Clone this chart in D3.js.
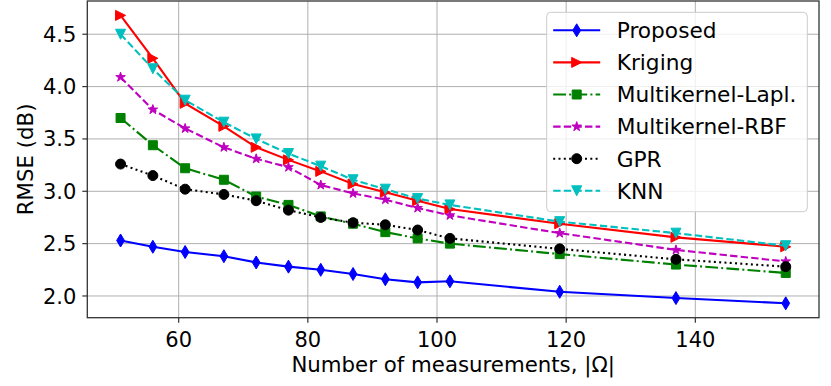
<!DOCTYPE html>
<html>
<head>
<meta charset="utf-8">
<script src="https://cdn.jsdelivr.net/npm/d3@7"></script>
<style>
body { margin: 0; background: #fff; }
text { font-family: "DejaVu Sans", sans-serif; fill: #000; }
</style>
</head>
<body>
<div id="chart"></div>
<script>
// data
var xVals = [51, 56, 61, 67, 72, 77, 82, 87, 92, 97, 102, 119, 137, 154];
var proposed = [2.53, 2.47, 2.42, 2.38, 2.32, 2.28, 2.25, 2.21, 2.16, 2.13, 2.14, 2.04, 1.98, 1.93];
var kriging  = [4.68, 4.27, 3.84, 3.62, 3.42, 3.30, 3.19, 3.07, 2.99, 2.91, 2.83, 2.69, 2.56, 2.47];
var mkLapl   = [3.70, 3.44, 3.22, 3.11, 2.95, 2.87, 2.76, 2.69, 2.61, 2.55, 2.50, 2.40, 2.30, 2.22];
var mkRbf    = [4.09, 3.78, 3.60, 3.42, 3.31, 3.23, 3.06, 2.98, 2.92, 2.84, 2.77, 2.60, 2.44, 2.33];
var gpr      = [3.26, 3.15, 3.02, 2.97, 2.91, 2.82, 2.75, 2.70, 2.68, 2.63, 2.55, 2.45, 2.35, 2.28];
var knn      = [4.50, 4.17, 3.87, 3.66, 3.50, 3.36, 3.24, 3.11, 3.02, 2.93, 2.87, 2.71, 2.60, 2.48];

var seriesNames = ["Proposed", "Kriging", "Multikernel-Lapl.", "Multikernel-RBF", "GPR", "KNN"];
var seriesValues = [proposed, kriging, mkLapl, mkRbf, gpr, knn];
var xTicks = [60, 80, 100, 120, 140];
var yTicks = [2.0, 2.5, 3.0, 3.5, 4.0, 4.5];

// styles for each series (matplotlib-ish)
var colors = ["#0000ff", "#ff0000", "#008000", "#bf00bf", "#000000", "#00bfbf"];
var dashes = [null, null, "12.8,3.2,2,3.2", "7.4,3.2", "2,3.3", "7.4,3.2"];
var markers = ["thin_diamond", "tri_right", "square", "star", "circle", "tri_down"];
var ms = 10;

var totalW = 831, totalH = 386;
var margin = {top: 1, right: 12, bottom: 68.3, left: 87.3},
  width = totalW - margin.left - margin.right,
  height = totalH - margin.top - margin.bottom;

var svg = d3.select("#chart")
  .append("svg")
  .attr("width", totalW)
  .attr("height", totalH)
  .append("g")
  .attr("transform", "translate(" + margin.left + "," + margin.top + ")");

// 5% padding like matplotlib autoscale
var xExt = d3.extent(xVals);
var xPad = (xExt[1] - xExt[0]) * 0.05;
var allY = d3.merge(seriesValues);
var yExt = d3.extent(allY);
var yPad = (yExt[1] - yExt[0]) * 0.05;

var x = d3.scaleLinear().domain([xExt[0] - xPad, xExt[1] + xPad]).range([0, width]);
var y = d3.scaleLinear().domain([yExt[0] - yPad, yExt[1] + yPad]).range([height, 0]);

// grid
svg.append("g").selectAll("line").data(xTicks).enter().append("line")
  .attr("x1", function(d) { return x(d); }).attr("x2", function(d) { return x(d); })
  .attr("y1", 0).attr("y2", height)
  .style("stroke", "#b0b0b0").style("stroke-width", 1);
svg.append("g").selectAll("line").data(yTicks).enter().append("line")
  .attr("y1", function(d) { return y(d); }).attr("y2", function(d) { return y(d); })
  .attr("x1", 0).attr("x2", width)
  .style("stroke", "#b0b0b0").style("stroke-width", 1);

// marker shapes
function markerPath(type, s) {
  var r = s / 2;
  if (type == "thin_diamond") {
    var h = s * 0.65, w = h * 0.6;
    return "M0," + (-h) + "L" + w + ",0L0," + h + "L" + (-w) + ",0Z";
  }
  if (type == "tri_right") return "M" + r + ",0L" + (-r) + "," + (-r) + "L" + (-r) + "," + r + "Z";
  if (type == "tri_down") return "M0," + r + "L" + (-r) + "," + (-r) + "L" + r + "," + (-r) + "Z";
  if (type == "square") { var q = r * 0.9; return "M" + (-q) + "," + (-q) + "h" + (2 * q) + "v" + (2 * q) + "h" + (-2 * q) + "Z"; }
  if (type == "circle") return "M" + r + ",0A" + r + "," + r + " 0 1,1 " + (-r) + ",0A" + r + "," + r + " 0 1,1 " + r + ",0Z";
  if (type == "star") {
    var pts = [], ri = r * 0.381966;
    for (var k = 0; k < 10; k++) {
      var rr = k % 2 == 0 ? r : ri;
      var a = -Math.PI / 2 + k * Math.PI / 5;
      pts.push([rr * Math.cos(a), rr * Math.sin(a)]);
    }
    return "M" + pts.map(function(p) { return p[0].toFixed(2) + "," + p[1].toFixed(2); }).join("L") + "Z";
  }
}

var line = d3.line()
  .x(function(d) { return x(d[0]); })
  .y(function(d) { return y(d[1]); });

// draw series
seriesValues.forEach(function(vals, i) {
  var pts = xVals.map(function(xv, j) { return [xv, vals[j]]; });
  var g = svg.append("g");
  g.append("path")
    .attr("d", line(pts))
    .style("fill", "none")
    .style("stroke", colors[i])
    .style("stroke-width", 2.1)
    .style("stroke-dasharray", dashes[i]);
  g.selectAll(".m").data(pts).enter().append("path")
    .attr("transform", function(d) { return "translate(" + x(d[0]) + "," + y(d[1]) + ")"; })
    .attr("d", markerPath(markers[i], ms))
    .style("fill", colors[i])
    .style("stroke", colors[i])
    .style("stroke-width", 1);
});

// spines
svg.append("rect")
  .attr("x", 0).attr("y", 0).attr("width", width).attr("height", height)
  .style("fill", "none").style("stroke", "#333").style("stroke-width", 1.3);

// ticks
svg.append("g").selectAll("line").data(xTicks).enter().append("line")
  .attr("x1", function(d) { return x(d); }).attr("x2", function(d) { return x(d); })
  .attr("y1", height).attr("y2", height + 5)
  .style("stroke", "#333").style("stroke-width", 1.2);
svg.append("g").selectAll("text").data(xTicks).enter().append("text")
  .attr("x", function(d) { return x(d); })
  .attr("y", height + 29)
  .attr("text-anchor", "middle")
  .style("font-size", "21px")
  .text(function(d) { return d; });

svg.append("g").selectAll("line").data(yTicks).enter().append("line")
  .attr("y1", function(d) { return y(d); }).attr("y2", function(d) { return y(d); })
  .attr("x1", -5).attr("x2", 0)
  .style("stroke", "#333").style("stroke-width", 1.2);
svg.append("g").selectAll("text").data(yTicks).enter().append("text")
  .attr("x", -11)
  .attr("y", function(d) { return y(d); })
  .attr("dy", "0.36em")
  .attr("text-anchor", "end")
  .style("font-size", "21px")
  .text(function(d) { return d.toFixed(1); });

// axis labels
svg.append("text")
  .attr("x", width / 2)
  .attr("y", height + 54)
  .attr("text-anchor", "middle")
  .style("font-size", "21.3px")
  .text("Number of measurements, |\u03A9|");

svg.append("text")
  .attr("transform", "translate(-54," + (height / 2) + ") rotate(-90)")
  .attr("text-anchor", "middle")
  .style("font-size", "21.3px")
  .text("RMSE (dB)");

// legend
var lg = svg.append("g").attr("transform", "translate(" + (546.7 - margin.left) + "," + (12.3 - margin.top) + ")");
lg.append("rect")
  .attr("width", 260.6).attr("height", 199.4).attr("rx", 4)
  .style("fill", "#fff").style("fill-opacity", 0.8)
  .style("stroke", "#cccccc").style("stroke-width", 1);

var item = lg.selectAll(".item").data(seriesNames).enter().append("g")
  .attr("transform", function(d, i) { return "translate(0," + (18 + i * 32.1) + ")"; });
item.append("line")
  .attr("x1", 6.5).attr("x2", 53.5)
  .style("stroke", function(d, i) { return colors[i]; })
  .style("stroke-width", 2.1)
  .style("stroke-dasharray", function(d, i) { return dashes[i]; });
item.append("path")
  .attr("transform", "translate(30,0)")
  .attr("d", function(d, i) { return markerPath(markers[i], ms); })
  .style("fill", function(d, i) { return colors[i]; })
  .style("stroke", function(d, i) { return colors[i]; })
  .style("stroke-width", 1);
item.append("text")
  .attr("x", 70)
  .attr("dy", "0.36em")
  .style("font-size", "21.7px")
  .text(function(d) { return d; });
</script>
</body>
</html>
